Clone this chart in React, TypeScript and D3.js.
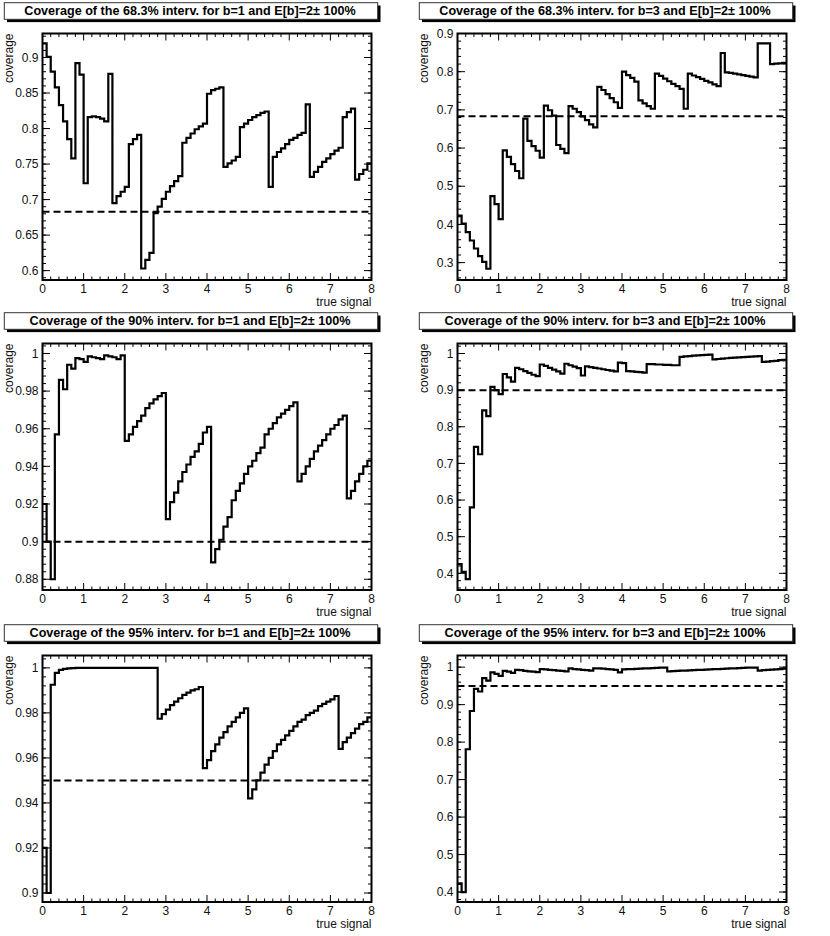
import React from 'react';
import * as d3 from 'd3';

// bin edges of the coverage histograms (80 bins, 0..8)
const signalEdges = d3.range(0, 81).map(i => i / 10);

const titles = [
  'Coverage of the 68.3% interv. for b=1 and E[b]=2\u00b1 100%',
  'Coverage of the 68.3% interv. for b=3 and E[b]=2\u00b1 100%',
  'Coverage of the 90% interv. for b=1 and E[b]=2\u00b1 100%',
  'Coverage of the 90% interv. for b=3 and E[b]=2\u00b1 100%',
  'Coverage of the 95% interv. for b=1 and E[b]=2\u00b1 100%',
  'Coverage of the 95% interv. for b=3 and E[b]=2\u00b1 100%',
];

const levels = [0.683, 0.683, 0.9, 0.9, 0.95, 0.95];

const cov68b1 = [
  0.920, 0.901, 0.880, 0.858, 0.833, 0.810, 0.785, 0.758, 0.892, 0.876,
  0.723, 0.816, 0.817, 0.816, 0.814, 0.810, 0.877, 0.695, 0.705, 0.711,
  0.718, 0.778, 0.785, 0.791, 0.603, 0.615, 0.625, 0.681, 0.690, 0.701,
  0.711, 0.719, 0.726, 0.733, 0.780, 0.787, 0.793, 0.799, 0.803, 0.807,
  0.849, 0.854, 0.856, 0.858, 0.746, 0.751, 0.755, 0.760, 0.802, 0.807,
  0.812, 0.816, 0.819, 0.822, 0.824, 0.718, 0.760, 0.767, 0.772, 0.778,
  0.784, 0.787, 0.791, 0.794, 0.834, 0.732, 0.739, 0.746, 0.753, 0.758,
  0.764, 0.769, 0.773, 0.816, 0.823, 0.828, 0.728, 0.736, 0.742, 0.751,
];

const cov68b3 = [
  0.423, 0.402, 0.380, 0.358, 0.337, 0.317, 0.302, 0.284, 0.474, 0.453,
  0.414, 0.594, 0.577, 0.558, 0.540, 0.521, 0.677, 0.619, 0.605, 0.593,
  0.575, 0.711, 0.699, 0.685, 0.608, 0.598, 0.587, 0.710, 0.703, 0.694,
  0.683, 0.673, 0.662, 0.654, 0.760, 0.752, 0.741, 0.731, 0.720, 0.705,
  0.800, 0.791, 0.784, 0.774, 0.725, 0.717, 0.710, 0.703, 0.795, 0.789,
  0.782, 0.775, 0.768, 0.762, 0.755, 0.703, 0.795, 0.790, 0.786, 0.781,
  0.776, 0.772, 0.767, 0.762, 0.849, 0.798, 0.797, 0.795, 0.793, 0.791,
  0.789, 0.787, 0.785, 0.874, 0.874, 0.874, 0.820, 0.821, 0.822, 0.823,
];

const cov90b1 = [
  0.920, 0.900, 0.880, 0.957, 0.986, 0.981, 0.994, 0.992, 0.9975, 0.997,
  0.9955, 0.9985, 0.998, 0.9975, 0.997, 0.999, 0.9985, 0.998, 0.997, 0.999,
  0.9536, 0.957, 0.961, 0.964, 0.967, 0.971, 0.9735, 0.9756, 0.9773, 0.979,
  0.912, 0.921, 0.926, 0.932, 0.937, 0.941, 0.945, 0.948, 0.952, 0.958,
  0.961, 0.889, 0.896, 0.901, 0.908, 0.913, 0.922, 0.927, 0.931, 0.936,
  0.940, 0.943, 0.947, 0.950, 0.957, 0.960, 0.963, 0.966, 0.968, 0.970,
  0.972, 0.974, 0.932, 0.936, 0.940, 0.944, 0.948, 0.951, 0.954, 0.957,
  0.960, 0.962, 0.965, 0.967, 0.923, 0.927, 0.932, 0.936, 0.940, 0.943,
];

const cov90b3 = [
  0.425, 0.404, 0.384, 0.580, 0.745, 0.725, 0.845, 0.829, 0.909, 0.900,
  0.889, 0.944, 0.935, 0.923, 0.961, 0.957, 0.952, 0.947, 0.942, 0.938,
  0.970, 0.966, 0.961, 0.956, 0.951, 0.945, 0.972, 0.968, 0.964, 0.960,
  0.940, 0.965, 0.963, 0.961, 0.959, 0.957, 0.955, 0.953, 0.951, 0.975,
  0.974, 0.952, 0.951, 0.950, 0.949, 0.948, 0.971, 0.971, 0.970, 0.970,
  0.969, 0.969, 0.968, 0.968, 0.991, 0.992, 0.993, 0.994, 0.995, 0.9955,
  0.996, 0.997, 0.984, 0.985, 0.986, 0.987, 0.988, 0.989, 0.9895, 0.990,
  0.991, 0.9915, 0.992, 0.993, 0.977, 0.978, 0.979, 0.980, 0.982, 0.983,
];

const cov95b1 = [
  0.920, 0.900, 0.9925, 0.9978, 0.9991, 0.9996, 0.9998, 0.9999, 1.0, 1.0,
  1.0, 1.0, 1.0, 1.0, 1.0, 1.0, 1.0, 1.0, 1.0, 1.0,
  1.0, 1.0, 1.0, 1.0, 1.0, 1.0, 1.0, 1.0, 0.9774, 0.9795,
  0.9815, 0.9835, 0.985, 0.9865, 0.988, 0.989, 0.990, 0.9905, 0.9915, 0.9555,
  0.959, 0.963, 0.966, 0.969, 0.9715, 0.974, 0.976, 0.978, 0.980, 0.982,
  0.942, 0.946, 0.950, 0.9535, 0.957, 0.960, 0.963, 0.966, 0.968, 0.970,
  0.972, 0.974, 0.976, 0.977, 0.979, 0.980, 0.981, 0.983, 0.984, 0.985,
  0.986, 0.9875, 0.964, 0.967, 0.969, 0.971, 0.973, 0.975, 0.976, 0.978,
];

const cov95b3 = [
  0.423, 0.400, 0.781, 0.883, 0.942, 0.935, 0.971, 0.964, 0.986, 0.982,
  0.977, 0.990, 0.988, 0.985, 0.993, 0.992, 0.990, 0.989, 0.988, 0.987,
  0.995, 0.994, 0.993, 0.992, 0.991, 0.990, 0.989, 0.997, 0.995, 0.994,
  0.993, 0.992, 0.991, 0.997, 0.9965, 0.996, 0.995, 0.994, 0.993, 0.986,
  0.994, 0.9945, 0.995, 0.9955, 0.996, 0.9965, 0.997, 0.9975, 0.998, 0.9985,
  0.999, 0.989, 0.9895, 0.990, 0.9905, 0.991, 0.9915, 0.992, 0.9925, 0.993,
  0.9935, 0.994, 0.9945, 0.995, 0.9955, 0.996, 0.9965, 0.997, 0.9975, 0.998,
  0.9985, 0.999, 0.999, 0.991, 0.992, 0.993, 0.9935, 0.994, 0.995, 0.996,
];

const series = [cov68b1, cov68b3, cov90b1, cov90b3, cov95b1, cov95b3];

const yDomains = [
  [0.5868, 0.9338], [0.2545, 0.9],
  [0.8743, 1.0053], [0.3545, 1.0273],
  [0.896, 1.0055], [0.3734, 1.0311],
];

const yTickLabels = [
  ['0.6', '0.65', '0.7', '0.75', '0.8', '0.85', '0.9'],
  ['0.3', '0.4', '0.5', '0.6', '0.7', '0.8', '0.9'],
  ['0.88', '0.9', '0.92', '0.94', '0.96', '0.98', '1'],
  ['0.4', '0.5', '0.6', '0.7', '0.8', '0.9', '1'],
  ['0.9', '0.92', '0.94', '0.96', '0.98', '1'],
  ['0.4', '0.5', '0.6', '0.7', '0.8', '0.9', '1'],
];

const yMinorSteps = [0.01, 0.02, 0.004, 0.02, 0.004, 0.02];

const xTickLabels = ['0', '1', '2', '3', '4', '5', '6', '7', '8'];

const W = 830;
const H = 936;
const FL = 42.5, FR = 371.5, FT = 33.5, FB = 280;
const colX = [0, 415];
const rowY = [0, 310, 622];
const FONT = "'Liberation Sans', Arial, Helvetica, sans-serif";

function Panel({ idx }: { idx: number }) {
  const dx = colX[idx % 2];
  const dy = rowY[Math.floor(idx / 2)];
  const values = series[idx];
  const dom = yDomains[idx];

  const x = d3.scaleLinear().domain([0, 8]).range([FL, FR]);
  const y = d3.scaleLinear().domain(dom).range([FB, FT]);

  const pts: [number, number][] = values.map((v, i) => [signalEdges[i], v] as [number, number]);
  pts.push([signalEdges[80], values[values.length - 1]]);
  const path = d3.line<[number, number]>()
    .x(d => x(d[0]))
    .y(d => y(d[1]))
    .curve(d3.curveStepAfter)(pts) || '';

  const xMinor = d3.range(0, 41).map(i => i * 0.2);
  const step = yMinorSteps[idx];
  const k0 = Math.ceil(dom[0] / step - 1e-6);
  const k1 = Math.floor(dom[1] / step + 1e-6);
  const yMinor = d3.range(k0, k1 + 1).map(k => k * step);

  return (
    <g transform={`translate(${dx},${dy})`}>
      {/* title box with shadow */}
      <rect x={7} y={5.5} width={373.5} height={16.6} fill="#000" />
      <rect x={4.3} y={2.7} width={373.4} height={16.6} fill="#fff" stroke="#333" strokeWidth={1} />
      <text x={190} y={15.4} textAnchor="middle" fontFamily={FONT} fontWeight="bold" fontSize={12.6}>
        {titles[idx]}
      </text>

      {/* ticks */}
      <g stroke="#000" strokeWidth={1}>
        {xMinor.map((t, i) => {
          const len = i % 5 === 0 ? 7 : 3.5;
          return (
            <g key={'xt' + i}>
              <line x1={x(t)} x2={x(t)} y1={FB} y2={FB - len} />
              <line x1={x(t)} x2={x(t)} y1={FT} y2={FT + len} />
            </g>
          );
        })}
        {yMinor.map((t, i) => (
          <g key={'ym' + i}>
            <line x1={FL} x2={FL + 3.5} y1={y(t)} y2={y(t)} />
            <line x1={FR} x2={FR - 3.5} y1={y(t)} y2={y(t)} />
          </g>
        ))}
        {yTickLabels[idx].map((l, i) => (
          <g key={'yM' + i}>
            <line x1={FL} x2={FL + 7.5} y1={y(+l)} y2={y(+l)} />
            <line x1={FR} x2={FR - 7.5} y1={y(+l)} y2={y(+l)} />
          </g>
        ))}
      </g>

      {/* confidence level */}
      <line x1={x(0)} x2={x(8)} y1={y(levels[idx])} y2={y(levels[idx])}
        stroke="#000" strokeWidth={2} strokeDasharray="7,4" />

      {/* coverage histogram */}
      <path d={path} fill="none" stroke="#000" strokeWidth={2.2} />

      {/* frame */}
      <rect x={FL} y={FT} width={FR - FL} height={FB - FT} fill="none" stroke="#000" strokeWidth={2} />

      {/* tick labels */}
      <g fontFamily={FONT} fontSize={12} fill="#111">
        {xTickLabels.map((l, i) => (
          <text key={'xl' + i} x={x(+l)} y={292.5} textAnchor="middle">{l}</text>
        ))}
        {yTickLabels[idx].map((l, i) => (
          <text key={'yl' + i} x={38.5} y={y(+l) + 4.2} textAnchor="end">{l}</text>
        ))}
      </g>

      {/* axis titles */}
      <text x={FR} y={306} textAnchor="end" fontFamily={FONT} fontSize={12} fill="#111">true signal</text>
      <text transform={`translate(12.7,${FT}) rotate(-90)`} textAnchor="end"
        fontFamily={FONT} fontSize={12} fill="#111">coverage</text>
    </g>
  );
}

export default function App() {
  return (
    <svg width={W} height={H} style={{ position: 'absolute', left: 0, top: 0, background: '#fff' }}>
      <rect width={W} height={H} fill="#fff" />
      {series.map((_, i) => <Panel key={i} idx={i} />)}
    </svg>
  );
}
